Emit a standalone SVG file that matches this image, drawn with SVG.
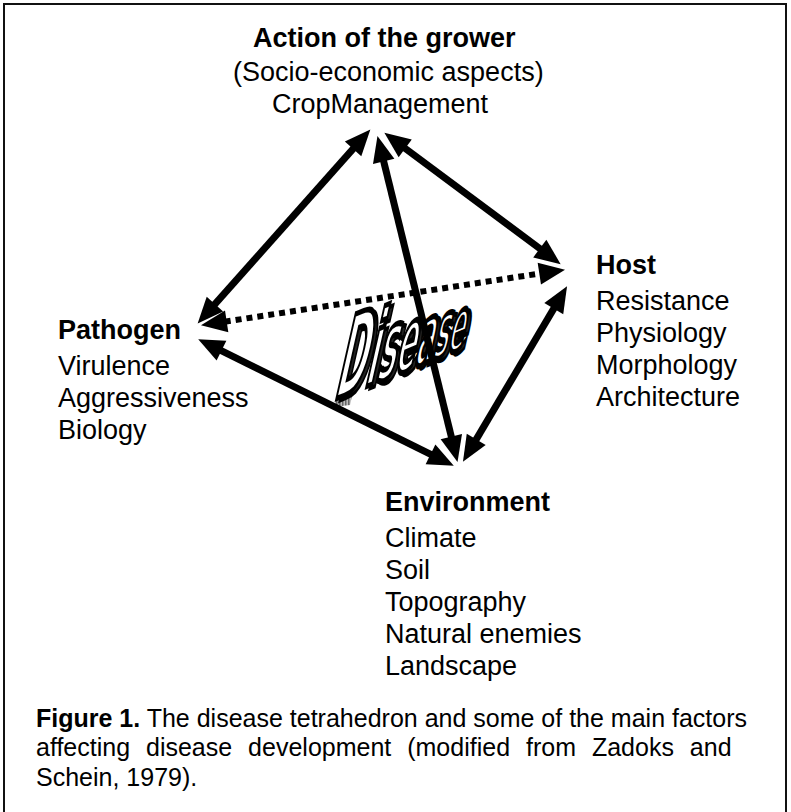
<svg xmlns="http://www.w3.org/2000/svg" width="791" height="812" viewBox="0 0 791 812">
  <style>
    .lbl { font-family: "Liberation Sans", Arial, Helvetica, sans-serif; font-size: 27px; fill: #000; }
    .hd { font-weight: bold; }
    .cap { font-family: "Liberation Sans", Arial, Helvetica, sans-serif; font-size: 25px; fill: #000; }
    .arrow { stroke: #000; stroke-width: 7; fill: none; marker-start: url(#head); marker-end: url(#head); }
    .dotted { stroke-width: 6; stroke-dasharray: 6 5; }
    .word { font-family: "DejaVu Sans Condensed", "DejaVu Sans", sans-serif; font-weight: bold; }
  </style>
  <defs>
    <marker id="head" markerUnits="userSpaceOnUse" markerWidth="26" markerHeight="24" refX="0" refY="12" orient="auto-start-reverse" overflow="visible">
      <path d="M-2,1 L24,12 L-2,23 Z" fill="#000"/>
    </marker>
    <pattern id="hatch" width="3" height="3" patternUnits="userSpaceOnUse">
      <rect width="3" height="3" fill="#bbb"/>
      <rect width="1.5" height="3" fill="#666"/>
    </pattern>
  </defs>

  <rect x="4" y="4" width="782" height="830" fill="#fff" stroke="#111" stroke-width="2"/>

  <!-- central WordArt-style word, letters shrinking to the right for depth -->
  <g id="disease">
    <polygon points="336,398 352,396 350,405 334,407" fill="url(#hatch)"/>
    <text class="word" transform="translate(336,402) skewY(-22) skewX(-14) scale(0.85,2.2)" fill="#222" stroke="#000" stroke-width="2" vector-effect="non-scaling-stroke"><tspan font-size="48">D</tspan><tspan font-size="44">i</tspan><tspan font-size="41">s</tspan><tspan font-size="38">e</tspan><tspan font-size="35">a</tspan><tspan font-size="33">s</tspan><tspan font-size="31">e</tspan></text>
    <text class="word" transform="translate(333,400) skewY(-22) skewX(-14) scale(0.85,2.2)" fill="#fff" stroke="#000" stroke-width="2.5" vector-effect="non-scaling-stroke"><tspan font-size="48">D</tspan><tspan font-size="44">i</tspan><tspan font-size="41">s</tspan><tspan font-size="38">e</tspan><tspan font-size="35">a</tspan><tspan font-size="33">s</tspan><tspan font-size="31">e</tspan></text>
  </g>

  <!-- tetrahedron edges -->
  <g id="connectors">
    <line class="arrow" x1="354.4" y1="147.4" x2="213.6" y2="305.6"/>
    <line class="arrow" x1="383.2" y1="159.4" x2="451.8" y2="438.6"/>
    <line class="arrow" x1="403.6" y1="147.2" x2="541.4" y2="249.8"/>
    <line class="arrow" x1="554.8" y1="306.9" x2="475.2" y2="441.1"/>
    <line class="arrow" x1="219.7" y1="349.8" x2="432.3" y2="455.2"/>
    <line class="arrow dotted" x1="224.7" y1="321.7" x2="541.3" y2="273.3"/>
  </g>

  <g id="grower">
    <text class="lbl hd" x="253" y="47">Action of the grower</text>
    <text class="lbl" x="233" y="81">(Socio-economic aspects)</text>
    <text class="lbl" x="272" y="113">CropManagement</text>
  </g>

  <g id="host">
    <text class="lbl hd" x="596" y="274">Host</text>
    <text class="lbl" x="596" y="310">Resistance</text>
    <text class="lbl" x="596" y="342">Physiology</text>
    <text class="lbl" x="596" y="374">Morphology</text>
    <text class="lbl" x="596" y="406">Architecture</text>
  </g>

  <g id="pathogen">
    <text class="lbl hd" x="58" y="339">Pathogen</text>
    <text class="lbl" x="58" y="375">Virulence</text>
    <text class="lbl" x="58" y="407">Aggressiveness</text>
    <text class="lbl" x="58" y="439">Biology</text>
  </g>

  <g id="environment">
    <text class="lbl hd" x="385" y="511">Environment</text>
    <text class="lbl" x="385" y="547">Climate</text>
    <text class="lbl" x="385" y="579">Soil</text>
    <text class="lbl" x="385" y="611">Topography</text>
    <text class="lbl" x="385" y="643">Natural enemies</text>
    <text class="lbl" x="385" y="675">Landscape</text>
  </g>

  <g id="caption">
    <text class="cap" x="36" y="727"><tspan font-weight="bold">Figure 1.</tspan> The disease tetrahedron and some of the main factors</text>
    <text class="cap" x="36" y="756" word-spacing="9">affecting disease development (modified from Zadoks and</text>
    <text class="cap" x="36" y="786">Schein, 1979).</text>
  </g>
</svg>
